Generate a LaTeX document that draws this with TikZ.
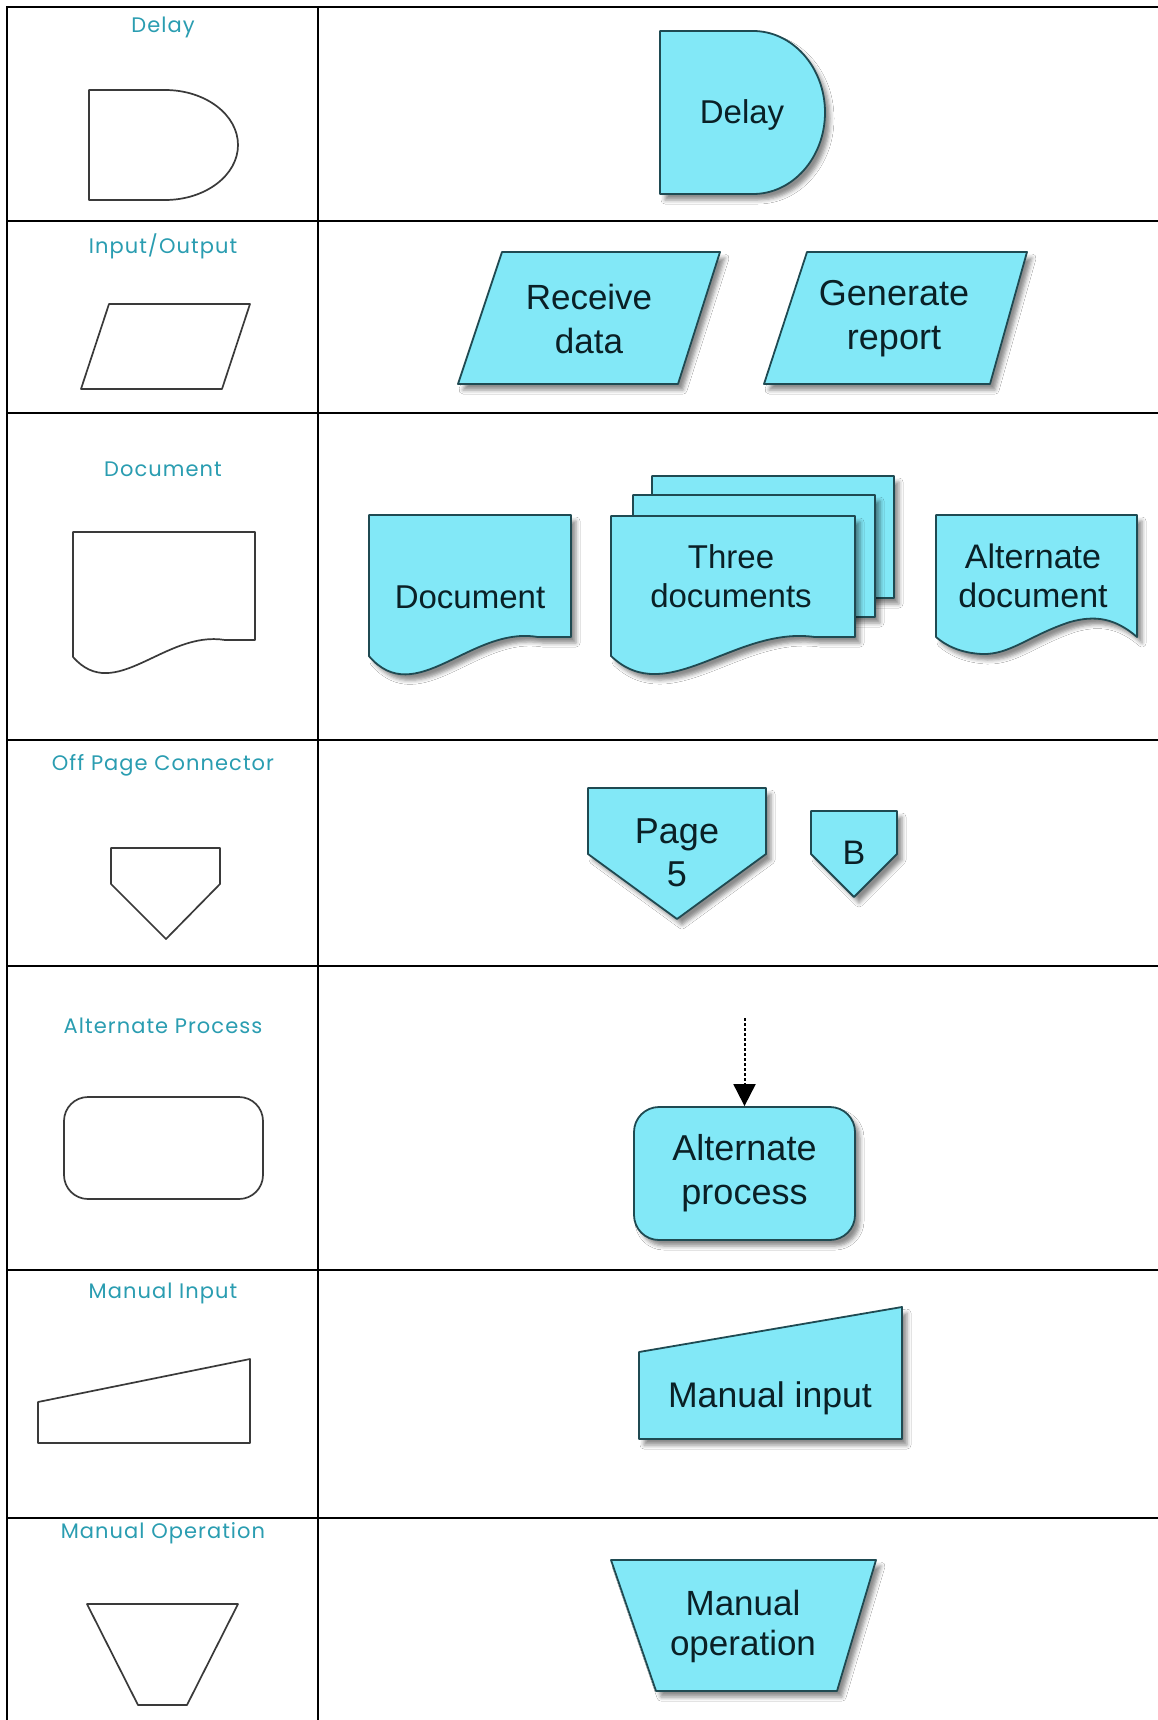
\documentclass[tikz,border=0pt]{standalone}
\usepackage{fontspec}
\setmainfont{Liberation Sans}
\newfontfamily\lblfont[LetterSpace=5]{Poppins}
\usetikzlibrary{arrows.meta,shadows.blur}
\definecolor{lblcol}{HTML}{2A9DB1}
\definecolor{cfill}{HTML}{82E8F7}
\definecolor{cstroke}{HTML}{1F4A52}
\definecolor{ctext}{HTML}{0A2026}
\definecolor{ostroke}{HTML}{3A3A3A}
\newcommand\txtsize[2]{\fontsize{#1}{#2}\selectfont}
% document shape: style, L, T, R, B(right bottom)
\newcommand\docshape[5]{%
  \draw[#1] (#2,#3) -- (#4,#3) -- (#4,#5) -- ({#4-0.165*(#4-#2)},#5)
    .. controls ({#2+0.505*(#4-#2)},{#5-0.093*(#5-#3)}) and ({#2+0.23*(#4-#2)},{#5+0.6*(#5-#3)})
    .. (#2,{#5+0.157*(#5-#3)}) -- cycle;}
\begin{document}
\begin{tikzpicture}[x=1pt,y=-1pt,
  gridline/.style={draw=black,line width=1.5pt,line cap=rect},
  labeltext/.style={font=\lblfont\txtsize{21}{25},text=lblcol,inner sep=0pt},
  oshape/.style={draw=ostroke,line width=1.7pt,line join=round},
  fshape/.style={fill=cfill,draw=cstroke,line width=1.8pt,line join=round,
    blur shadow={shadow xshift=5pt,shadow yshift=-6pt,shadow blur radius=4pt,shadow opacity=45}},
  txt/.style={text=ctext,align=center,inner sep=0pt},
  dotarrow/.style={draw=black,line width=2pt,dash pattern=on 2.5pt off 2.5pt,
    -{Triangle[length=22pt,width=22pt]}}
]
\fill[white] (0,0) rectangle (1158,1720);
\useasboundingbox (0,0) rectangle (1158,1720);
% table grid
\foreach \yy in {7,221,413,740,966,1270,1518}{\draw[gridline] (7,\yy) -- (1158,\yy);}
\draw[gridline] (7,7) -- (7,1720);
\draw[gridline] (318,7) -- (318,1720);
% labels
\node[labeltext] (l1) at (163,27) {Delay};
\node[labeltext] (l2) at (163,246) {Input/Output};
\node[labeltext] (l3) at (163,469) {Document};
\node[labeltext] (l4) at (163,765) {Off Page Connector};
\node[labeltext] (l5) at (163,1026) {Alternate Process};
\node[labeltext] (l6) at (163,1293) {Manual Input};
\node[labeltext] (l7) at (163,1533) {Manual Operation};
% ---- Delay
\draw[oshape] (165,90) -- (89,90) -- (89,200) -- (165,200)
  arc[start angle=-90,end angle=90,x radius=73pt,y radius=55pt] -- cycle;
\draw[fshape] (753,194) -- (660,194) -- (660,31) -- (753,31)
  arc[start angle=90,end angle=-90,x radius=72pt,y radius=81.5pt] -- cycle;
\node[txt,font=\txtsize{33}{38}] (tdelay) at (742,115) {Delay};
% ---- Input/Output
\draw[oshape] (109,304) -- (250,304) -- (222,389) -- (81,389) -- cycle;
\draw[fshape] (502,252) -- (720,252) -- (678,384) -- (458,384) -- cycle;
\node[txt,font=\txtsize{35}{44}] (trecv) at (589,319) {Receive\\data};
\draw[fshape] (807,252) -- (1027,252) -- (990,384) -- (764,384) -- cycle;
\node[txt,font=\txtsize{36}{44}] (tgen) at (894,319) {Generate\\report};
% ---- Document
\docshape{oshape}{73}{532}{255}{640}
\docshape{fshape}{369}{515}{571}{637}
\node[txt,font=\txtsize{33}{38}] (tdoc) at (470,597) {Document};
\docshape{fshape}{652}{476}{894}{598}
\docshape{fshape}{633}{495}{875}{617}
\docshape{fshape}{611}{516}{855}{637}
\node[txt,font=\txtsize{33}{39}] (tthree) at (731,576) {Three\\documents};
\draw[fshape] (936,515) -- (1137,515) -- (1137,637)
  .. controls (1115,618) and (1095,615) .. (1070,622)
  .. controls (1030,635) and (1010,655) .. (982,654)
  .. controls (960,653) and (945,645) .. (936,637) -- cycle;
\node[txt,font=\txtsize{34}{39}] (talt) at (1033,576) {Alternate\\document};
% ---- Off page connector
\draw[oshape] (111,848) -- (220,848) -- (220,884) -- (166,939) -- (111,884) -- cycle;
\draw[fshape] (588,788) -- (766,788) -- (766,854) -- (677,919) -- (588,854) -- cycle;
\node[txt,font=\txtsize{36}{43}] (tpage) at (677,853) {Page\\5};
\draw[fshape] (811,811) -- (897,811) -- (897,854) -- (854,897) -- (811,854) -- cycle;
\node[txt,font=\txtsize{34}{38}] (tb) at (854,853) {B};
% ---- Alternate process
\draw[oshape,rounded corners=24pt] (64,1097) rectangle (263,1199);
\node[fshape,txt,rounded corners=25pt,minimum width=221pt,minimum height=133pt,
  font=\txtsize{36}{44}] (altp) at (744.5,1173.5) {Alternate\\process};
\coordinate (astart) at (744.5,1018);
\draw[dotarrow] (astart) -- (altp.north);
% ---- Manual input
\draw[oshape] (38,1402) -- (250,1359) -- (250,1443) -- (38,1443) -- cycle;
\draw[fshape] (639,1352) -- (902,1307) -- (902,1439) -- (639,1439) -- cycle;
\node[txt,font=\txtsize{35.6}{42}] (tman) at (770,1398) {Manual input};
% ---- Manual operation
\draw[oshape] (87,1604) -- (238,1604) -- (187,1705) -- (138,1705) -- cycle;
\draw[fshape] (611,1560) -- (876,1560) -- (837,1691) -- (656,1691) -- cycle;
\node[txt,font=\txtsize{35}{40}] (tmop) at (743,1626) {Manual\\operation};
\end{tikzpicture}
\end{document}
